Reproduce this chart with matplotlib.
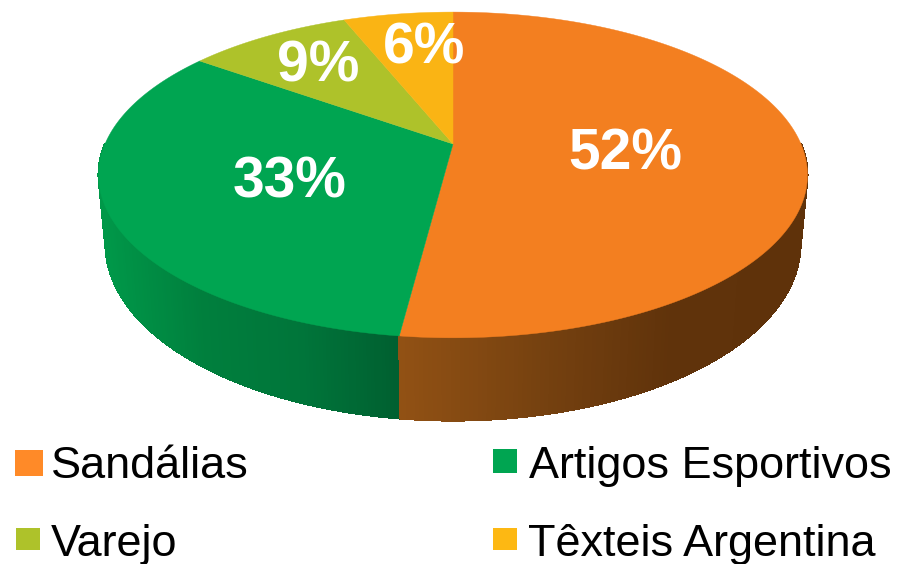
import numpy as np
import matplotlib
matplotlib.use('Agg')
import matplotlib.pyplot as plt
from matplotlib.colors import LinearSegmentedColormap
from matplotlib.patches import Rectangle

plt.rcParams['font.family'] = ['Liberation Sans', 'DejaVu Sans']

categories = ['Sandálias', 'Artigos Esportivos', 'Varejo', 'Têxteis Argentina']
values = [52, 33, 9, 6]
colors = ['#F37F20', '#00A551', '#AEC22A', '#FAB414']

# where the percent labels and the legend sit, in pixels
label_pos = [(625, 155), (290, 182), (318, 66), (424, 49)]
swatches = [(15, 450, 28, 26), (493, 449, 24, 24), (16, 528, 24, 22), (493, 528, 24, 22)]
legend_text = [(51, 478), (529, 478), (51, 556), (528, 556)]
swatch_colors = ['#FF8A28', '#00A551', '#AEC22A', '#FDB813']

# fake 3d look: circle with perspective squeeze
cx, cy = 453, 144
rx, ry = 348, 157
k = 0.19
depth = 67


def top_rim(theta):
    u, v = np.sin(theta), np.cos(theta)
    s = 1 / (1 + k * v)
    return cx + rx * u * s, cy - ry * v * s


def low_rim(theta):
    u, v = np.sin(theta), np.cos(theta)
    s = 1 / (1 + k * v)
    return cx + 0.98 * rx * u * s, cy - ry * v * s + depth * s


fig = plt.figure(figsize=(8.97, 5.64), dpi=100)
ax = fig.add_axes([0, 0, 1, 1])
ax.set_xlim(0, 897)
ax.set_ylim(564, 0)
ax.axis('off')

side_cmaps = [
    LinearSegmentedColormap.from_list('o', ['#915114', '#774210', '#60330B', '#5F320A'], N=256),
    LinearSegmentedColormap.from_list('g', ['#009849', '#007F3D', '#00753A', '#005F30'], N=256),
]
side_ranges = [(400, 805), (100, 400)]

edges = 2 * np.pi * np.cumsum([0] + values) / sum(values)

# side wall, only the two front slices are visible
for i in [1, 0]:
    t0, t1 = edges[i], edges[i + 1]
    # keep to the part of the rim that faces us
    t0 = max(t0, np.radians(90))
    t1 = min(t1, np.radians(270))
    ts = np.linspace(t0, t1, 160)
    for a, b in zip(ts[:-1], ts[1:]):
        xa, ya = top_rim(a)
        xb, yb = top_rim(b)
        xc, yc = low_rim(b)
        xd, yd = low_rim(a)
        lo, hi = side_ranges[i]
        pos = ((xa + xb) / 2 - lo) / (hi - lo)
        ax.fill([xa, xb, xc, xd], [ya, yb, yc, yd], color=side_cmaps[i](np.clip(pos, 0, 1)),
                lw=0.8, antialiased=False)

# top face
for i in range(len(values)):
    ts = np.linspace(edges[i], edges[i + 1], 200)
    xs, ys = top_rim(ts)
    ax.fill(np.r_[cx, xs], np.r_[cy, ys], color=colors[i], lw=0.3)

for v, (x, y) in zip(values, label_pos):
    ax.text(x, y, f'{v}%', color='white', fontsize=41, fontweight='bold', ha='center', va='center')

for name, sw, col, (x, y) in zip(categories, swatches, swatch_colors, legend_text):
    ax.add_patch(Rectangle(sw[:2], sw[2], sw[3], color=col, lw=0))
    ax.text(x, y, name, color='black', fontsize=32.4, ha='left', va='baseline')

fig.savefig('out.png', dpi=100)
